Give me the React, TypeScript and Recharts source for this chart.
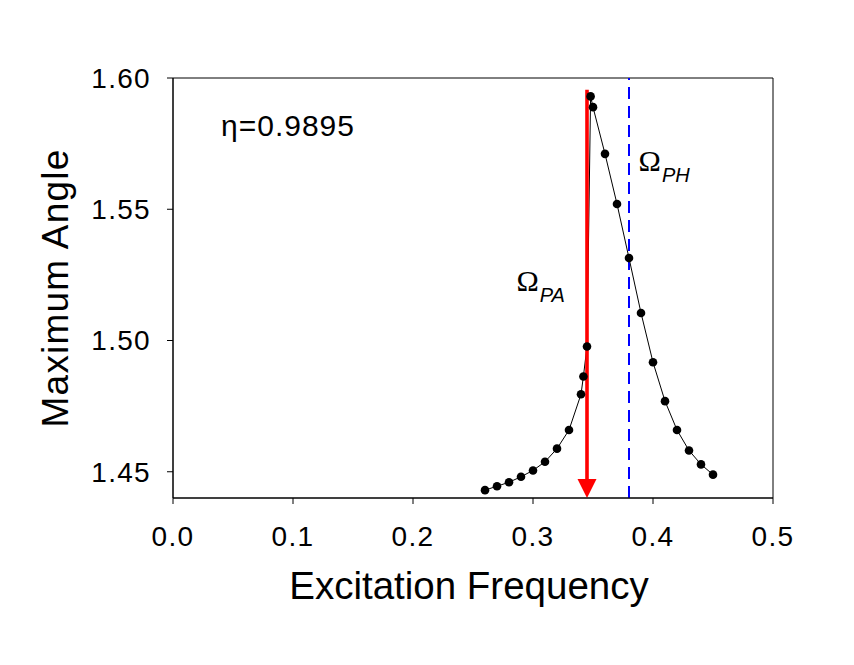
import { LineChart, Line, XAxis, YAxis, ReferenceLine, ReferenceDot, ReferenceArea, Label } from 'recharts'

// Excitation frequency vs maximum angle, eta = 0.9895
const FREQ = [0.26, 0.27, 0.28, 0.29, 0.3, 0.31, 0.32, 0.33, 0.34, 0.342, 0.345, 0.348, 0.35, 0.36, 0.37, 0.38, 0.39, 0.4, 0.41, 0.42, 0.43, 0.44, 0.45]
const MAX_ANGLE = [1.443, 1.4445, 1.446, 1.4481, 1.4505, 1.4538, 1.4588, 1.4659, 1.4795, 1.4863, 1.4977, 1.593, 1.5889, 1.5711, 1.552, 1.5314, 1.5105, 1.4917, 1.4769, 1.4659, 1.4581, 1.4528, 1.4489]

const X_TICKS = [0, 0.1, 0.2, 0.3, 0.4, 0.5]
const Y_TICKS = [1.45, 1.5, 1.55, 1.6]

const OMEGA_PA = 0.345 // red arrow
const OMEGA_PH = 0.38 // blue dashed line
const ARROW_TOP = 1.5955

const data = FREQ.map((f, i) => ({ f, v: MAX_ANGLE[i] }))

const FONT = '"Liberation Sans", Arial, sans-serif'

function Arrow(props: any) {
    const { x1, y1, x2, y2 } = props
    const top = Math.min(y1, y2)
    const tip = Math.max(y1, y2)
    const head = 19
    return (
        <g>
            <line x1={x1} y1={top} x2={x2} y2={tip - head + 1} stroke="#ff0000" strokeWidth={3.6} />
            <polygon points={`${x1 - 9.5},${tip - head} ${x1 + 9.5},${tip - head} ${x1},${tip}`} fill="#ff0000" />
        </g>
    )
}

function OmegaText({ cx, cy, sub }: any) {
    return (
        <text x={cx} y={cy} fill="#000">
            <tspan fontSize={30} fontFamily='"Liberation Serif", "Times New Roman", serif'>Ω</tspan>
            <tspan fontSize={20} fontFamily={FONT} fontStyle="italic" dx={1} dy={11}>{sub}</tspan>
        </text>
    )
}

export default function App() {
    return (
        <div style={{ position: 'absolute', left: 0, top: 0, width: 854, height: 665, background: '#fff' }}>
            <LineChart width={854} height={665} data={data} margin={{ top: 78, right: 81, left: 0, bottom: 0 }}>
                <XAxis
                    dataKey="f"
                    type="number"
                    domain={[0, 0.5]}
                    ticks={X_TICKS}
                    tickFormatter={(v) => Number(v).toFixed(1)}
                    height={167}
                    tickSize={6}
                    tickMargin={22}
                    stroke="#000"
                    tick={{ fill: '#000', fontSize: 28, fontFamily: FONT, letterSpacing: 1.3 }}
                    allowDataOverflow
                >
                    <Label
                        content={({ viewBox }: any) => (
                            <text
                                x={viewBox.x + viewBox.width / 2 - 4}
                                y={viewBox.y + 101}
                                textAnchor="middle"
                                fontSize={38.5}
                                fontFamily={FONT}
                                fill="#000"
                            >
                                Excitation Frequency
                            </text>
                        )}
                    />
                </XAxis>
                <YAxis
                    type="number"
                    domain={[1.44, 1.6]}
                    ticks={Y_TICKS}
                    tickFormatter={(v) => Number(v).toFixed(2)}
                    width={173}
                    tickSize={6}
                    tickMargin={16}
                    stroke="#000"
                    tick={{ fill: '#000', fontSize: 28, fontFamily: FONT, letterSpacing: 1.3 }}
                    allowDataOverflow
                >
                    <Label
                        content={({ viewBox }: any) => {
                            const cx = 68
                            const cy = viewBox.y + viewBox.height / 2
                            return (
                                <text
                                    x={cx}
                                    y={cy}
                                    transform={`rotate(-90, ${cx}, ${cy})`}
                                    textAnchor="middle"
                                    fontSize={37}
                                    letterSpacing={1.2}
                                    fontFamily={FONT}
                                    fill="#000"
                                >
                                    Maximum Angle
                                </text>
                            )
                        }}
                    />
                </YAxis>
                <ReferenceArea x1={0} x2={0.5} y1={1.44} y2={1.6} fill="none" stroke="#000" strokeWidth={1} />
                <Line
                    dataKey="v"
                    type="linear"
                    stroke="#000"
                    strokeWidth={1}
                    dot={false}
                    isAnimationActive={false}
                />
                <ReferenceLine
                    segment={[{ x: OMEGA_PA, y: ARROW_TOP }, { x: OMEGA_PA, y: 1.44 }]}
                    shape={Arrow}
                />
                <ReferenceLine x={OMEGA_PH} stroke="#0000ff" strokeWidth={2} strokeDasharray="12 7" />
                <Line
                    dataKey="v"
                    type="linear"
                    stroke="none"
                    dot={{ r: 4.3, fill: '#000', stroke: 'none' }}
                    isAnimationActive={false}
                />
                <ReferenceDot
                    x={0.04}
                    y={1.578}
                    shape={({ cx, cy }: any) => (
                        <text x={cx} y={cy} fontSize={30} letterSpacing={1} fontFamily={FONT} fill="#000">
                            η=0.9895
                        </text>
                    )}
                />
                <ReferenceDot x={0.388} y={1.5644} shape={(p: any) => <OmegaText {...p} sub="PH" />} />
                <ReferenceDot x={0.2862} y={1.5187} shape={(p: any) => <OmegaText {...p} sub="PA" />} />
            </LineChart>
        </div>
    )
}
